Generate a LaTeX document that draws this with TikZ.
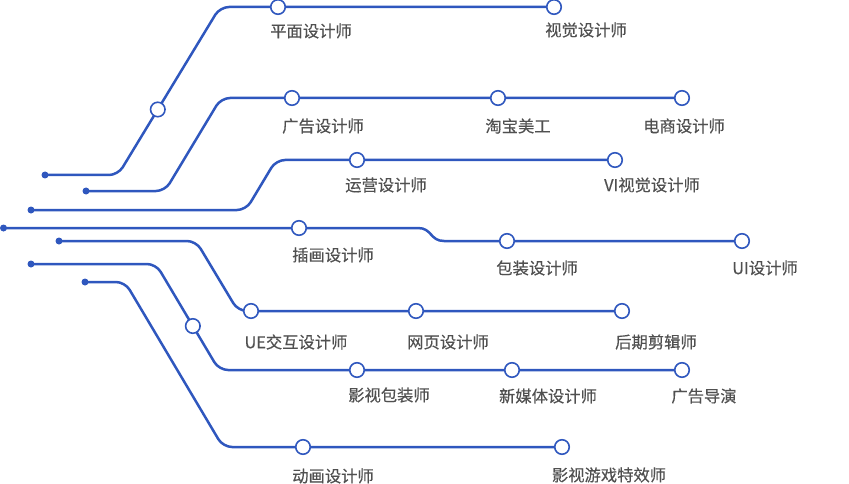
\documentclass[tikz,border=0pt]{standalone}
\usepackage{fontspec}
\setmainfont{Noto Sans CJK SC}
\newfontfamily\lblfont{Noto Sans CJK SC}[FakeBold=0.35]
\usetikzlibrary{calc}
\definecolor{lineblue}{HTML}{2F57BE}
\definecolor{labelgray}{HTML}{505050}
\tikzset{
  track/.style={draw=lineblue,line width=2.5pt,rounded corners=9pt},
  stop/.style={circle,draw=lineblue,fill=white,line width=1.6pt,minimum size=14.5pt,inner sep=0pt},
  startdot/.style={circle,fill=lineblue,minimum size=7pt,inner sep=0pt},
  lbl/.style={text=labelgray,font=\lblfont\fontsize{16.3}{19}\selectfont,inner sep=0pt,anchor=center}
}
\begin{document}
\begin{tikzpicture}[x=1pt,y=-1pt]
\useasboundingbox (0,0) rectangle (849,484);
% coordinates
\coordinate (d1) at (45,175);  \coordinate (k1a) at (118,175); \coordinate (k1b) at (220,7);
\coordinate (d2) at (86,191);  \coordinate (k2a) at (165,191); \coordinate (k2b) at (221,98);
\coordinate (d3) at (31,210);  \coordinate (k3a) at (246,210); \coordinate (k3b) at (276,160);
\coordinate (d4) at (3.5,228); \coordinate (k4a) at (418,228); \coordinate (k4b) at (444,241);
\coordinate (d5) at (59,241);  \coordinate (k5a) at (196,241); \coordinate (k5b) at (238,311);
\coordinate (d6) at (31,264);  \coordinate (k6a) at (156,264); \coordinate (k6b) at (219,370);
\coordinate (d7) at (85,282);  \coordinate (k7a) at (125,282); \coordinate (k7b) at (223,447);
% stops (positions)
\coordinate (s1a) at (278,7);   \coordinate (s1b) at (554,7);
\coordinate (s2a) at (292,98);  \coordinate (s2b) at (498,98);  \coordinate (s2c) at (682,98);
\coordinate (s3a) at (357,160); \coordinate (s3b) at (615,160);
\coordinate (s4a) at (299,228); \coordinate (s4b) at (507,241); \coordinate (s4c) at (742,241);
\coordinate (s5a) at (251,311); \coordinate (s5b) at (416,311); \coordinate (s5c) at (622,311);
\coordinate (s6a) at (357,370); \coordinate (s6b) at (512,370); \coordinate (s6c) at (682,370);
\coordinate (s7a) at (303,447); \coordinate (s7b) at (562,447);
% tracks
\draw[track] (d1) -- (k1a) -- (k1b) -- (s1b);
\draw[track] (d2) -- (k2a) -- (k2b) -- (s2c);
\draw[track] (d3) -- (k3a) -- (k3b) -- (s3b);
\draw[draw=lineblue,line width=2.5pt] (d4) -- (k4a) .. controls (432,228) and (430,241) .. (k4b) -- (s4c);
\draw[track] (d5) -- (k5a) -- (k5b) -- (s5c);
\draw[track] (d6) -- (k6a) -- (k6b) -- (s6c);
\draw[track] (d7) -- (k7a) -- (k7b) -- (s7b);
% start dots
\foreach \n in {1,...,7} \node[startdot] (dot\n) at (d\n) {};
% stop circles
\node[stop] (m1) at ($(k1a)!0.39!(k1b)$) {};
\node[stop] (m6) at ($(k6a)!0.585!(k6b)$) {};
\foreach \s in {1a,1b,2a,2b,2c,3a,3b,4a,4b,4c,5a,5b,5c,6a,6b,6c,7a,7b}
  \node[stop] (c\s) at (s\s) {};
% labels
\node[lbl] (t1a) at (311,31) {平面设计师};
\node[lbl] (t1b) at (586,30) {视觉设计师};
\node[lbl] (t2a) at (323,126) {广告设计师};
\node[lbl] (t2b) at (518,126) {淘宝美工};
\node[lbl] (t2c) at (684,126) {电商设计师};
\node[lbl] (t3a) at (386,185) {运营设计师};
\node[lbl] (t3b) at (652,185) {VI视觉设计师};
\node[lbl] (t4a) at (333,255) {插画设计师};
\node[lbl] (t4b) at (537,268) {包装设计师};
\node[lbl] (t4c) at (765,268) {UI设计师};
\node[lbl] (t5a) at (296,342) {UE交互设计师};
\node[lbl] (t5b) at (448,342) {网页设计师};
\node[lbl] (t5c) at (656,342) {后期剪辑师};
\node[lbl] (t6a) at (389,395) {影视包装师};
\node[lbl] (t6b) at (548,396) {新媒体设计师};
\node[lbl] (t6c) at (704,396) {广告导演};
\node[lbl] (t7a) at (333,476) {动画设计师};
\node[lbl] (t7b) at (609,475) {影视游戏特效师};
\end{tikzpicture}
\end{document}
